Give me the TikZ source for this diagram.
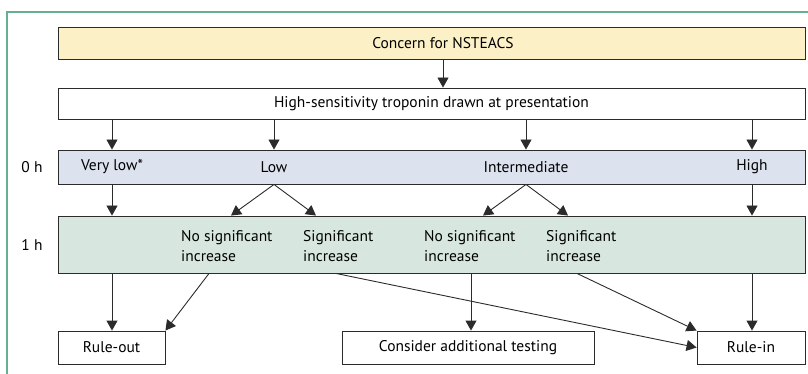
\documentclass[tikz,border=0pt]{standalone}
\usepackage{fontspec}
\setmainfont{PT Sans}
\usetikzlibrary{arrows.meta}
\definecolor{framegreen}{HTML}{66B08F}
\definecolor{boxyellow}{HTML}{FCF0C6}
\definecolor{boxblue}{HTML}{DCE2EE}
\definecolor{boxgreen}{HTML}{D7E7DF}
\definecolor{linegray}{HTML}{2B2B2B}
\tikzset{
	box/.style={draw=linegray, line width=0.9pt, inner sep=0pt},
	widebox/.style={box, minimum width=747pt},
	endbox/.style={box, minimum height=33pt},
	arr/.style={draw=linegray, line width=0.9pt, -{Triangle[width=11pt,length=10pt]}},
	lbl/.style={inner sep=0pt}
}
\begin{document}
\begin{tikzpicture}[x=1pt, y=-1pt, font=\fontsize{15.5}{20}\selectfont]
			\useasboundingbox (0,0) rectangle (808,374);
			\draw[framegreen, line width=1.5pt] (7,374) -- (7,12) -- (808,12);
			% boxes
			\node[widebox, fill=boxyellow, minimum height=32pt] (concern) at (431.5,43) {};
			\node[lbl] (concernlbl) at (443,43) {Concern for NSTEACS};
			\node[widebox, minimum height=31pt] (tropo) at (431.5,103.5) {High-sensitivity troponin drawn at presentation};
			\node[widebox, fill=boxblue, minimum height=34pt] (zero) at (431.5,167) {};
			\node[widebox, fill=boxgreen, minimum height=57pt] (one) at (431.5,244.5) {};
			\node[endbox, minimum width=107pt] (ruleout) at (111.5,347.5) {Rule-out};
			\node[endbox, minimum width=252pt] (consider) at (468,347.5) {Consider additional testing};
			\node[endbox, minimum width=108pt] (rulein) at (751,347.5) {Rule-in};
			\node[lbl] (t0) at (32,167) {0 h};
			\node[lbl] (t1) at (32,245) {1 h};
			\foreach \n\x\t in {vlow/112/Very low*,low/274/Low,inter/526/Intermediate,high/752/High}{
				\node[lbl] (\n) at (\x,167) {\t};
			}
			\foreach \n\x\t in {nsa/181/No significant,siga/303/Significant,nsb/424/No significant,sigb/546/Significant}{
				\node[lbl, anchor=west, align=left] (\n) at (\x,246) {\t\\increase};
			}
			% arrows
			\draw[arr] (concernlbl |- concern.south) -- (concernlbl |- tropo.north);
			\foreach \n in {vlow,low,inter,high}{
				\draw[arr] (\n |- tropo.south) -- (\n |- zero.north);
			}
			\foreach \n in {vlow,high}{
				\draw[arr] (\n |- zero.south) -- (\n |- one.north);
			}
			\foreach \n in {low,inter}{
				\draw[arr] (\n |- zero.south) -- ([xshift=-43pt]\n |- one.north);
				\draw[arr] (\n |- zero.south) -- ([xshift=42pt]\n |- one.north);
			}
			\draw[arr] (vlow |- one.south) -- (vlow |- ruleout.north);
			\draw[arr] ([xshift=28pt]nsa.west |- one.south) -- (ruleout.north east);
			\draw[arr] ([xshift=33pt]siga.west |- one.south) -- (rulein.west);
			\draw[arr] ([xshift=47pt]nsb.west |- one.south) -- ([xshift=47pt]nsb.west |- consider.north);
			\draw[arr] ([xshift=31pt]sigb.west |- one.south) -- (rulein.north west);
			\draw[arr] (high |- one.south) -- (high |- rulein.north);
		\end{tikzpicture}
\end{document}
